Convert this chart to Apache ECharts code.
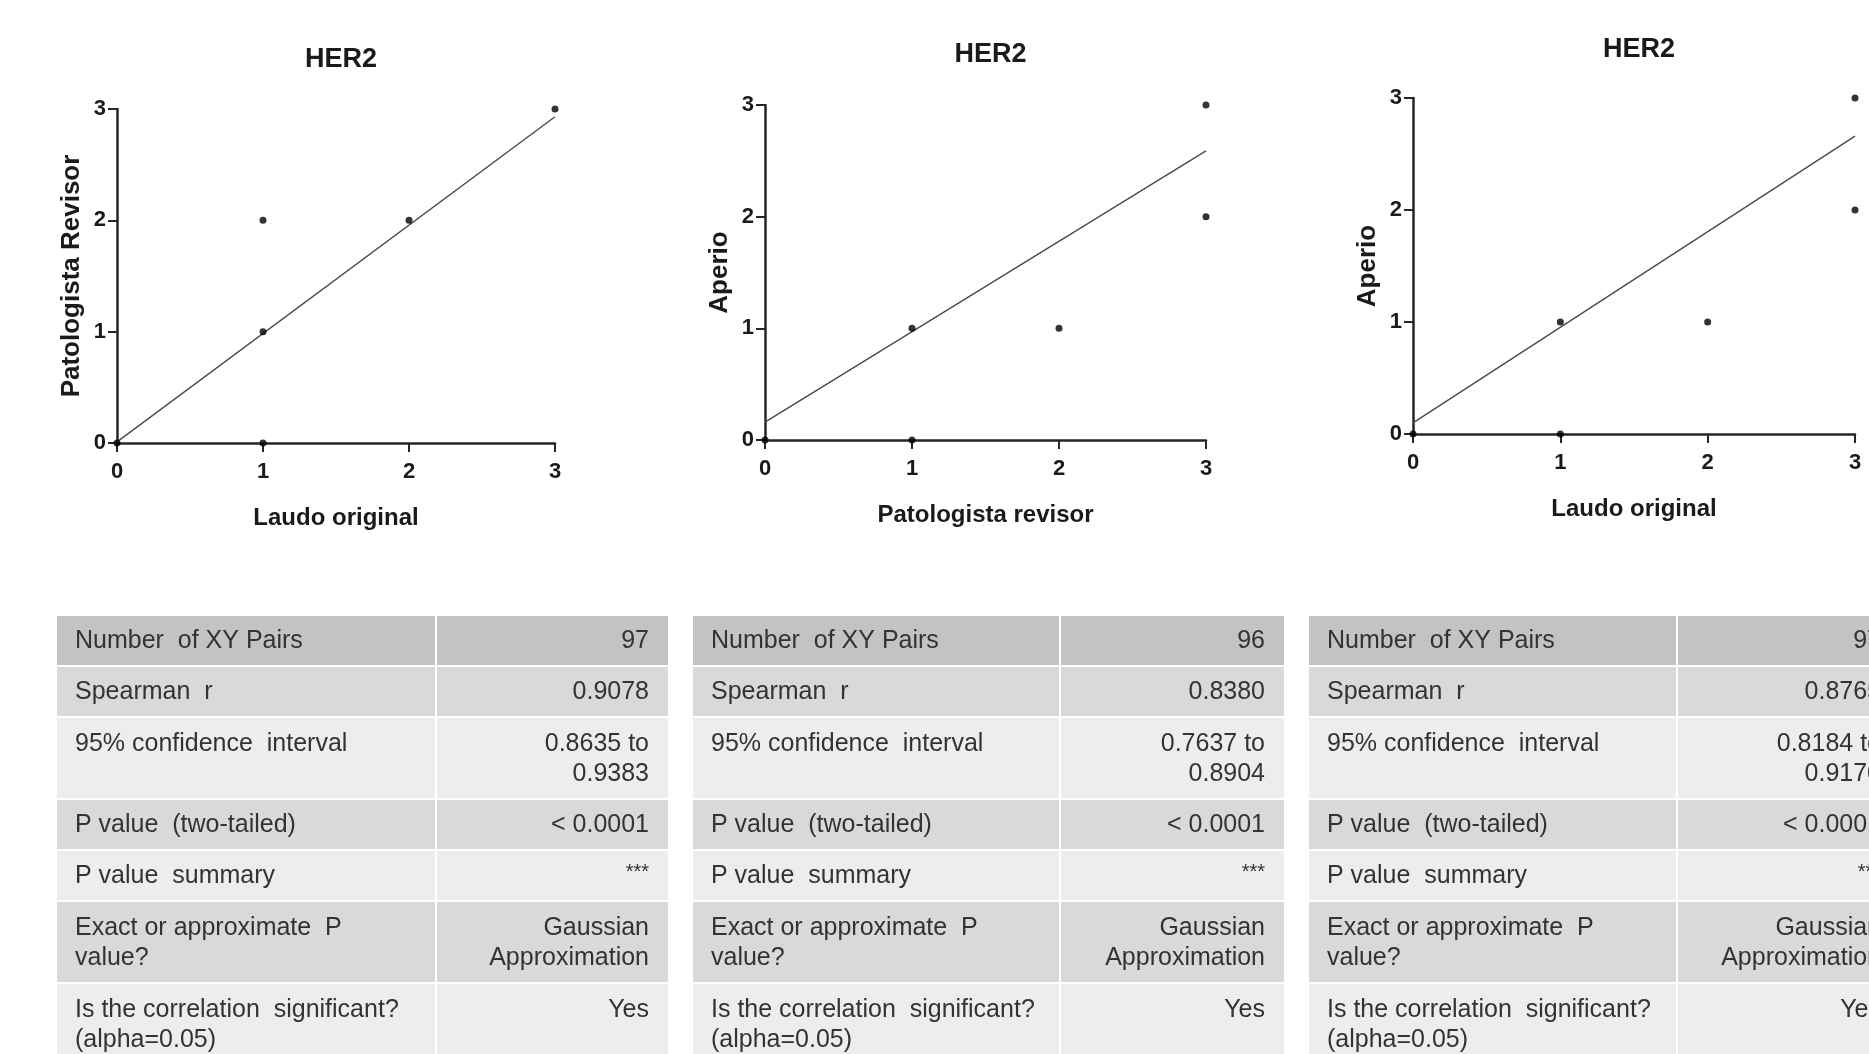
<!DOCTYPE html>
<html>
<head>
<meta charset="utf-8">
<script src="https://cdn.jsdelivr.net/npm/echarts@6/dist/echarts.min.js"></script>
<style>
  html, body { margin: 0; padding: 0; background: #fff; }
  #chart { width: 1869px; height: 1054px; }
</style>
</head>
<body>
<div id="chart"></div>
<script>
// ---------- data ----------
const axisTicks = [0, 1, 2, 3];
const panelTitles = ['HER2', 'HER2', 'HER2'];
const xNames = ['Laudo original', 'Patologista revisor', 'Laudo original'];
const yNames = ['Patologista Revisor', 'Aperio', 'Aperio'];

const points1 = [[0, 0], [1, 0], [1, 1], [1, 2], [2, 2], [3, 3]];
const points2 = [[0, 0], [1, 0], [1, 1], [2, 1], [3, 2], [3, 3]];
const points3 = [[0, 0], [1, 0], [1, 1], [2, 1], [3, 2], [3, 3]];

const fit1 = [[0, 0.01], [3, 2.93]];
const fit2 = [[0, 0.16], [3, 2.59]];
const fit3 = [[0, 0.10], [3, 2.66]];

const rowLabels = [
  'Number  of XY Pairs',
  'Spearman  r',
  '95% confidence  interval',
  'P value  (two-tailed)',
  'P value  summary',
  'Exact or approximate  P\nvalue?',
  'Is the correlation  significant?\n(alpha=0.05)'
];
const values1 = ['97', '0.9078', '0.8635 to\n0.9383', '< 0.0001', '***', 'Gaussian\nApproximation', 'Yes'];
const values2 = ['96', '0.8380', '0.7637 to\n0.8904', '< 0.0001', '***', 'Gaussian\nApproximation', 'Yes'];
const values3 = ['97', '0.8765', '0.8184 to\n0.9170', '< 0.0001', '***', 'Gaussian\nApproximation', 'Yes'];

// ---------- layout ----------
const grids = [
  { left: 117, top: 109, width: 438, height: 334 },
  { left: 765, top: 105, width: 441, height: 335 },
  { left: 1413, top: 98, width: 442, height: 336 }
];
const titleTops = [41, 36, 31];
const FONT = "'Liberation Sans', Arial, Helvetica, sans-serif";

const tables = [
  { left: 57, split: 436, right: 668, values: values1 },
  { left: 693, split: 1060, right: 1284, values: values2 },
  { left: 1309, split: 1677, right: 1900, values: values3 }
];
const rowTops =    [616, 667, 718, 800, 851, 902, 984];
const rowHeights = [49, 49, 80, 49, 49, 80, 80];
const rowFills = ['#c3c3c3', '#d9d9d9', '#ededed', '#d9d9d9', '#ededed', '#d9d9d9', '#ededed'];
const LINE_H = 30;

// ---------- build ----------
const titles = [], xAxes = [], yAxes = [], series = [];
const allPoints = [points1, points2, points3];
const allFits = [fit1, fit2, fit3];

grids.forEach((g, i) => {
  titles.push({
    text: panelTitles[i],
    left: g.left + g.width / 2,
    top: titleTops[i],
    textAlign: 'center',
    textStyle: { fontFamily: FONT, fontWeight: 'bold', fontSize: 27, color: '#1a1a1a' }
  });
  const axisCommon = {
    type: 'value',
    gridIndex: i,
    min: axisTicks[0],
    max: axisTicks[axisTicks.length - 1],
    interval: 1,
    splitLine: { show: false },
    axisLine: { show: true, onZero: false, lineStyle: { color: '#262626', width: 2.5 } },
    axisTick: { show: true, length: 9, lineStyle: { color: '#262626', width: 2 } },
    nameLocation: 'middle'
  };
  xAxes.push(Object.assign({}, axisCommon, {
    name: xNames[i],
    nameGap: 63,
    nameTextStyle: { fontFamily: FONT, fontWeight: 'bold', fontSize: 24, color: '#1a1a1a' },
    axisLabel: { margin: 18, fontFamily: FONT, fontWeight: 'bold', fontSize: 22, color: '#1a1a1a' }
  }));
  yAxes.push(Object.assign({}, axisCommon, {
    name: yNames[i],
    nameGap: 32,
    nameTextStyle: { fontFamily: FONT, fontWeight: 'bold', fontSize: 26, color: '#1a1a1a' },
    axisLabel: { margin: 11, fontFamily: FONT, fontWeight: 'bold', fontSize: 22, color: '#1a1a1a' }
  }));
  series.push({
    type: 'line',
    xAxisIndex: i, yAxisIndex: i,
    data: allFits[i],
    showSymbol: false,
    clip: false,
    lineStyle: { color: '#4a4a4a', width: 1.4 },
    z: 2
  });
  series.push({
    type: 'scatter',
    xAxisIndex: i, yAxisIndex: i,
    data: allPoints[i],
    symbol: 'circle',
    symbolSize: 7,
    clip: false,
    itemStyle: { color: '#000' },
    z: 3
  });
});

const graphics = [];
tables.forEach(t => {
  rowLabels.forEach((lab, r) => {
    const y = rowTops[r], h = rowHeights[r];
    const val = t.values[r];
    graphics.push({
      type: 'rect', silent: true,
      shape: { x: t.left, y: y, width: t.split - 1 - t.left, height: h },
      style: { fill: rowFills[r] }
    });
    graphics.push({
      type: 'rect', silent: true,
      shape: { x: t.split + 1, y: y, width: t.right - t.split - 1, height: h },
      style: { fill: rowFills[r] }
    });
    const nLines = Math.max(lab.split('\n').length, val.split('\n').length);
    const blockTop = y + h / 2 - nLines * LINE_H / 2 + 1;
    graphics.push({
      type: 'text', silent: true,
      x: t.left + 18, y: blockTop,
      style: {
        text: lab, font: '25px ' + FONT, fill: '#333',
        align: 'left', verticalAlign: 'top', lineHeight: LINE_H
      }
    });
    if (val === '***') {
      graphics.push({
        type: 'text', silent: true,
        x: t.right - 19, y: y + h / 2 - 3,
        style: {
          text: val, font: '20px ' + FONT, fill: '#333',
          align: 'right', verticalAlign: 'middle'
        }
      });
    } else {
      graphics.push({
        type: 'text', silent: true,
        x: t.right - 19, y: blockTop,
        style: {
          text: val, font: '25px ' + FONT, fill: '#333',
          align: 'right', verticalAlign: 'top', lineHeight: LINE_H
        }
      });
    }
  });
});

const chart = echarts.init(document.getElementById('chart'), null, { renderer: 'canvas' });
chart.setOption({
  animation: false,
  backgroundColor: '#ffffff',
  title: titles,
  grid: grids,
  xAxis: xAxes,
  yAxis: yAxes,
  series: series,
  graphic: graphics
});
</script>
</body>
</html>
